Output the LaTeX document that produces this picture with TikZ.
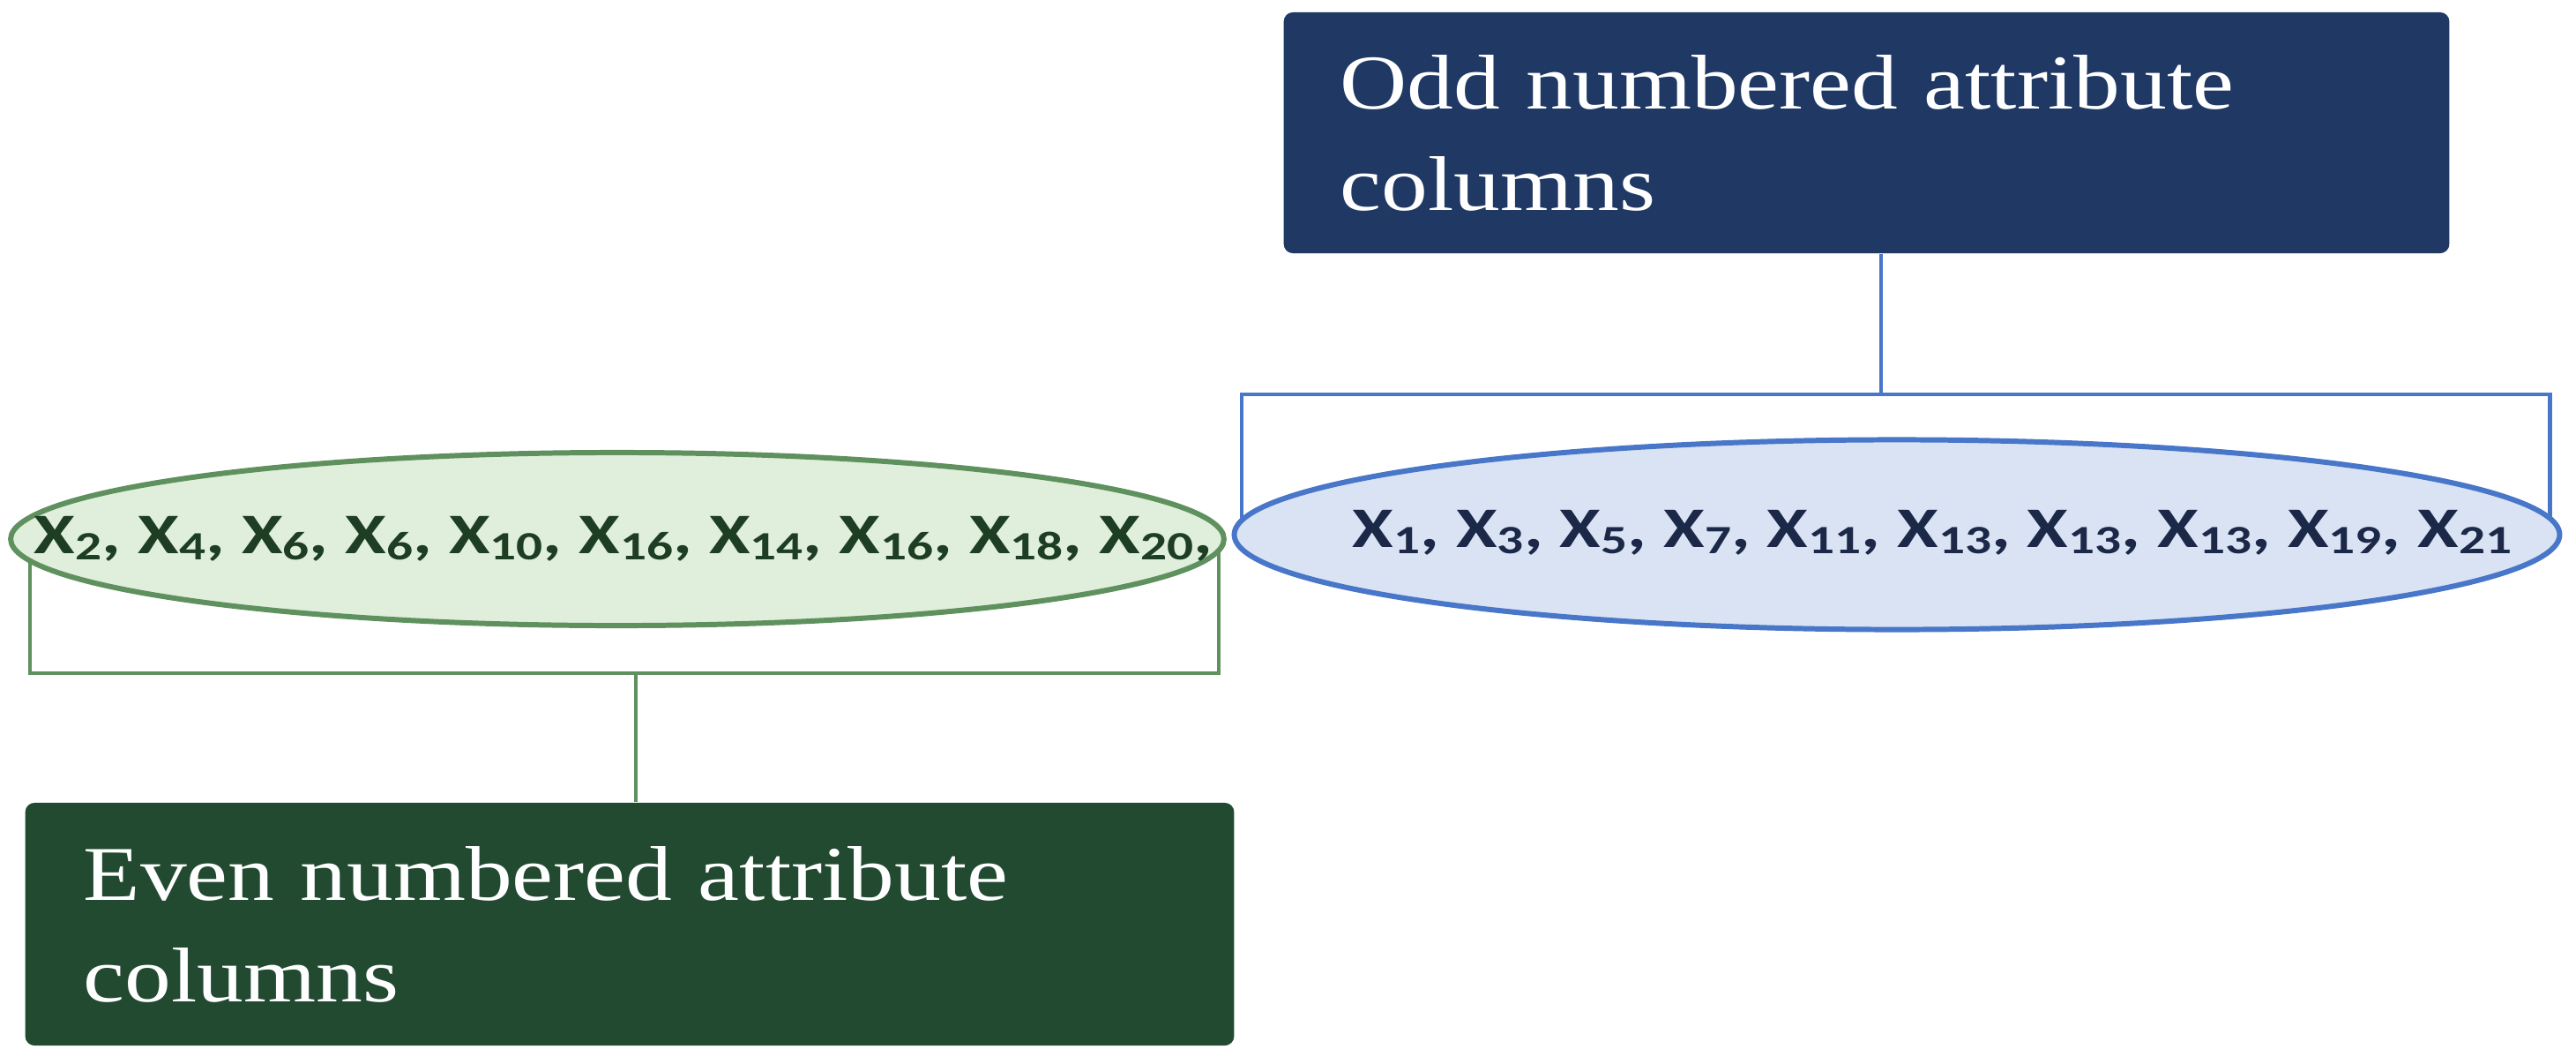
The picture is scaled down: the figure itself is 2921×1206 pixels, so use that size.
\documentclass[tikz,border=0pt]{standalone}
\usepackage{fontspec}
\setmainfont{Liberation Serif}[FakeStretch=1.2]
\newfontfamily\lblfont{Carlito}[FakeStretch=1.3]
\usetikzlibrary{shapes.geometric}
\definecolor{navybox}{RGB}{31,56,100}
\definecolor{greenbox}{RGB}{34,74,48}
\definecolor{blueline}{RGB}{72,118,200}
\definecolor{bluefill}{RGB}{218,227,243}
\definecolor{greenline}{RGB}{95,145,95}
\definecolor{greenfill}{RGB}{224,238,220}
\definecolor{greentext}{RGB}{30,62,36}
\definecolor{bluetext}{RGB}{28,40,72}
\newcommand\sbx[1]{\raisebox{-0.11em}{\scalebox{0.7}{#1}}}
\begin{document}
\begin{tikzpicture}[x=0.01cm,y=-0.01cm,
  labelbox/.style={rectangle,rounded corners=3pt,text=white,align=left,
    font=\fontsize{25}{32.7}\selectfont,inner ysep=0pt},
  oddbox/.style={labelbox,fill=navybox,
    minimum width=13.21cm,minimum height=2.73cm,text width=11.93cm,inner xsep=0.64cm},
  evenbox/.style={labelbox,fill=greenbox,minimum width=13.70cm,minimum height=2.75cm,
    text width=12.38cm,inner xsep=0.66cm},
  oval/.style={ellipse,inner sep=0pt,line width=1.7pt},
  oddoval/.style={oval,draw=blueline,fill=bluefill,minimum width=15.02cm,minimum height=2.15cm},
  evenoval/.style={oval,draw=greenline,fill=greenfill,minimum width=13.75cm,minimum height=1.96cm},
  ovaltext/.style={font=\lblfont\bfseries\fontsize{18.5}{21}\selectfont,inner sep=0pt,anchor=base},
  bline/.style={draw=blueline,line width=1.4pt},
  gline/.style={draw=greenline,line width=1.4pt}]
\useasboundingbox (0,0) rectangle (2921,1206);
\fill[white] (0,0) rectangle (2921,1206);

% boxes
\node[oddbox] (odd) at (2116.5,150.5) {Odd numbered attribute\\columns};
\node[evenbox] (even) at (714,1047.5) {Even numbered attribute\\columns};

% brackets (under ovals)
\coordinate (bl) at (1408,600);
\coordinate (br) at (2891,600);
\coordinate (bm) at (2133,447);
\draw[bline] (odd.south -| bm) -- (bm);
\draw[bline] (bl) |- (bm) -| (br);

\coordinate (gl) at (34,620);
\coordinate (gr) at (1382,620);
\coordinate (gm) at (721,763);
\draw[gline] (gl) |- (gm) -| (gr);
\draw[gline] (gm) -- (even.north -| gm);

% ovals
\node[oddoval] (oddell) at (2151,606) {};
\node[evenoval] (evenell) at (700,611) {};

% oval texts
\node[ovaltext,text=bluetext] (oddtxt) at (2191,620)
  {X\sbx{1}, X\sbx{3}, X\sbx{5}, X\sbx{7}, X\sbx{11}, X\sbx{13}, X\sbx{13}, X\sbx{13}, X\sbx{19}, X\sbx{21}};
\node[ovaltext,text=greentext] (eventxt) at (707,627)
  {X\sbx{2}, X\sbx{4}, X\sbx{6}, X\sbx{6}, X\sbx{10}, X\sbx{16}, X\sbx{14}, X\sbx{16}, X\sbx{18}, X\sbx{20},};
\end{tikzpicture}
\end{document}
